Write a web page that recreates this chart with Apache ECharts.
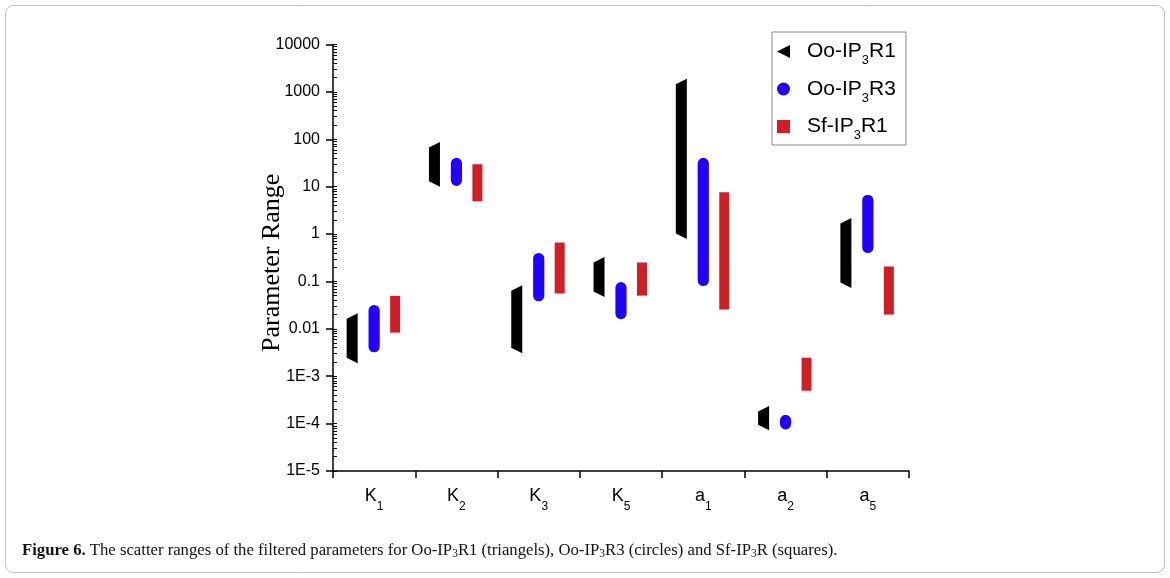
<!DOCTYPE html>
<html>
<head>
<meta charset="utf-8">
<script src="https://cdn.jsdelivr.net/npm/echarts@6/dist/echarts.min.js"></script>
<style>
  html, body { margin: 0; padding: 0; background: #ffffff; }
  #chart { width: 1170px; height: 578px; }
</style>
</head>
<body>
<div id="chart"></div>
<script>
// Parameters on the x axis (subscript digit after the letter)
const categories = ['K1', 'K2', 'K3', 'K5', 'a1', 'a2', 'a5'];

// Scatter range (lowest and highest accepted value) of each filtered parameter
const seriesNames = ['Oo-IP3R1', 'Oo-IP3R3', 'Sf-IP3R1'];
const oo1Min = [0.00245, 13.0, 0.0040, 0.061, 1.03, 9.5e-5, 0.095];
const oo1Max = [0.0164, 67, 0.064, 0.25, 1450, 1.8e-4, 1.67];
const oo3Min = [0.0042, 13.6, 0.050, 0.021, 0.105, 9.9e-5, 0.52];
const oo3Max = [0.0243, 31, 0.305, 0.074, 31, 1.17e-4, 5.15];
const sf1Min = [0.0106, 6.25, 0.071, 0.064, 0.0325, 6.3e-4, 0.0255];
const sf1Max = [0.039, 23.3, 0.52, 0.197, 5.95, 1.93e-3, 0.162];

// Decade tick labels, from 1E-5 up to 10000
const yTickLabels = ['1E-5', '1E-4', '1E-3', '0.01', '0.1', '1', '10', '100', '1000', '10000'];

const SANS = 'Liberation Sans, Arial, sans-serif';
const SERIF = 'Liberation Serif, Times New Roman, serif';

function rangeData(lo, hi) {
  return categories.map((c, i) => [i, lo[i], hi[i]]);
}

// Minor ticks of the log axis: 1..9 inside every decade
const minorTickValues = [];
for (let e = -5; e < 4; e++) {
  for (let m = 1; m <= 9; m++) minorTickValues.push(m * Math.pow(10, e));
}
minorTickValues.push(1e4);

// A stack of markers from the low to the high value, drawn as one outline
function rangeRenderer(kind, offset) {
  return function (params, api) {
    const i = api.value(0);
    const top = api.coord([i, api.value(2)]);
    const bot = api.coord([i, api.value(1)]);
    const band = api.size([1, 1])[0];
    const cx = top[0] + offset * band;
    const color = api.visual('color');
    if (kind === 'triangle') {
      const h = 5.5, w = 11;
      const xl = cx - w / 2, xr = cx + w / 2;
      return {
        type: 'polygon',
        shape: { points: [[xl, top[1]], [xr, top[1] - h], [xr, bot[1] + h], [xl, bot[1]]] },
        style: { fill: color }
      };
    }
    if (kind === 'circle') {
      const r = 5.6;
      return {
        type: 'rect',
        shape: { x: cx - r, y: top[1] - r, width: 2 * r, height: bot[1] - top[1] + 2 * r, r: r },
        style: { fill: color }
      };
    }
    const s = 5;
    return {
      type: 'rect',
      shape: { x: cx - s, y: top[1] - s, width: 2 * s, height: bot[1] - top[1] + 2 * s },
      style: { fill: color }
    };
  };
}

function subscriptName(name, firstStyle) {
  const m = name.match(/^(.*IP)3(.*)$/);
  return '{' + firstStyle + '|' + m[1] + '}{s|3}{n|' + m[2] + '}';
}

const chart = echarts.init(document.getElementById('chart'), null, { renderer: 'canvas' });

chart.setOption({
  backgroundColor: '#ffffff',
  animation: false,
  title: {
    left: 22,
    top: 542,
    padding: 0,
    text: '{b|Figure 6.} The scatter ranges of the filtered parameters for Oo-IP{s|3}R1 (triangels), Oo-IP{s|3}R3 (circles) and Sf-IP{s|3}R (squares).',
    textStyle: {
      fontFamily: SERIF,
      fontSize: 16.7,
      fontWeight: 'normal',
      color: '#111111',
      rich: {
        b: { fontFamily: SERIF, fontSize: 16.7, fontWeight: 'bold', color: '#111111' },
        s: { fontFamily: SERIF, fontSize: 11.5, color: '#111111', padding: [6, 0, 0, 0] }
      }
    }
  },
  graphic: [{
    type: 'rect',
    silent: true,
    shape: { x: 5.5, y: 5.5, width: 1159, height: 567, r: 8 },
    style: { fill: 'none', stroke: '#bfbfbf', lineWidth: 1 }
  }],
  legend: {
    orient: 'vertical',
    left: 772,
    top: 32,
    padding: [9, 10, 3, 5],
    itemWidth: 13,
    itemHeight: 13,
    itemGap: 11.5,
    borderColor: '#888888',
    borderWidth: 1,
    data: [
      { name: seriesNames[0], icon: 'path://M10,0L10,10L0,5Z' },
      { name: seriesNames[1], icon: 'circle' },
      { name: seriesNames[2], icon: 'rect' }
    ],
    formatter: name => subscriptName(name, 'n0'),
    textStyle: {
      color: '#000000',
      fontFamily: SANS,
      fontSize: 21,
      rich: {
        n0: { fontFamily: SANS, fontSize: 21, color: '#000000', padding: [0, 0, 0, 12] },
        n: { fontFamily: SANS, fontSize: 21, color: '#000000' },
        s: { fontFamily: SANS, fontSize: 13, color: '#000000', padding: [18, 0, 0, 0] }
      }
    }
  },
  grid: { left: 333, right: 261, top: 44.5, bottom: 107 },
  xAxis: {
    type: 'category',
    data: categories,
    axisLine: { lineStyle: { color: '#000000', width: 1.5 } },
    axisTick: { show: true, length: 7, lineStyle: { color: '#000000', width: 1.5 } },
    axisLabel: {
      margin: 8,
      formatter: v => '{n|' + v.charAt(0) + '}{s|' + v.slice(1) + '}',
      rich: {
        n: { fontFamily: SANS, fontSize: 18, color: '#000000' },
        s: { fontFamily: SANS, fontSize: 12, color: '#000000', padding: [22, 0, 0, 0] }
      }
    },
    splitLine: { show: false }
  },
  yAxis: [{
    type: 'log',
    logBase: 10,
    min: 1e-5,
    max: 1e4,
    interval: 1,
    position: 'left',
    name: 'Parameter Range',
    nameLocation: 'middle',
    nameGap: 48,
    nameMoveOverlap: false,
    nameTextStyle: { fontFamily: SERIF, fontSize: 26, color: '#000000', padding: [0, 10, 0, 0] },
    axisLine: { show: true, lineStyle: { color: '#000000', width: 1.5 } },
    axisTick: { show: true, length: 7, lineStyle: { color: '#000000', width: 1.5 } },
    axisLabel: {
      margin: 13,
      fontFamily: SANS,
      fontSize: 16,
      color: '#000000',
      formatter: v => yTickLabels[Math.round(Math.log10(v)) + 5]
    },
    splitLine: { show: false }
  }, {
    type: 'log',
    logBase: 10,
    min: 1e-5,
    max: 1e4,
    position: 'left',
    axisLine: { show: false },
    axisLabel: { show: false },
    axisTick: {
      show: true,
      inside: true,
      length: 4,
      customValues: minorTickValues,
      lineStyle: { color: '#000000', width: 1 }
    },
    splitLine: { show: false }
  }],
  series: [{
    name: seriesNames[0],
    type: 'custom',
    itemStyle: { color: '#000000' },
    renderItem: rangeRenderer('triangle', -0.267),
    encode: { x: 0, y: [1, 2] },
    data: rangeData(oo1Min, oo1Max)
  }, {
    name: seriesNames[1],
    type: 'custom',
    itemStyle: { color: '#2200ff' },
    renderItem: rangeRenderer('circle', 0),
    encode: { x: 0, y: [1, 2] },
    data: rangeData(oo3Min, oo3Max)
  }, {
    name: seriesNames[2],
    type: 'custom',
    itemStyle: { color: '#d01f24' },
    renderItem: rangeRenderer('square', 0.255),
    encode: { x: 0, y: [1, 2] },
    data: rangeData(sf1Min, sf1Max)
  }]
});
</script>
</body>
</html>
